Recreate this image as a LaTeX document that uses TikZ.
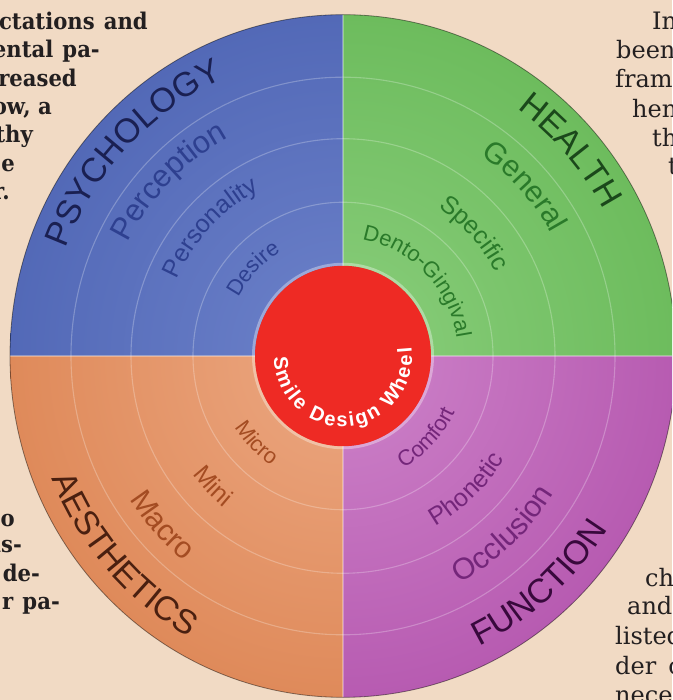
\documentclass[tikz,border=0pt]{standalone}
\usepackage{fontspec}
\setmainfont{Liberation Sans}
\newfontfamily\bgserifbold[FakeStretch=0.92]{DejaVu Serif}
\newfontfamily\bgserifreg{DejaVu Serif}
\usetikzlibrary{decorations.text}
\definecolor{pagebg}{HTML}{F1DAC4}
\definecolor{bgtext}{HTML}{231F20}
\definecolor{blueIn}{HTML}{6D82CA}
\definecolor{blueOut}{HTML}{3850A4}
\definecolor{greenIn}{HTML}{8ACE7C}
\definecolor{greenOut}{HTML}{50AA3E}
\definecolor{orangeIn}{HTML}{ECA882}
\definecolor{orangeOut}{HTML}{D26C32}
\definecolor{purpleIn}{HTML}{CE84CA}
\definecolor{purpleOut}{HTML}{A03298}
\definecolor{hubred}{HTML}{EE2A24}
\definecolor{psyA}{HTML}{1A2052}
\definecolor{psyB}{HTML}{2E4090}
\definecolor{heaA}{HTML}{1B481B}
\definecolor{heaB}{HTML}{2A7A2A}
\definecolor{aesA}{HTML}{4A2010}
\definecolor{aesB}{HTML}{A44C22}
\definecolor{funA}{HTML}{38093C}
\definecolor{funB}{HTML}{74267A}
\newcommand\wheelquad[4]{%
  \begin{scope}
    \clip (0,0) -- (#1:333pt) arc (#1:#2:333pt) -- cycle;
    \shade[inner color=#3, outer color=#4] (0,0) circle (666pt);
  \end{scope}}
\newcommand\toplabel[5]{% center angle, radius, size, color, text
  \path[decorate, decoration={text along path, text align=center,
     text={|\fontsize{#3}{#3}\selectfont\color{#4}|#5}}]
     (#1+70:#2 pt) arc (#1+70:#1-70:#2 pt);}
\newcommand\botlabel[5]{%
  \path[decorate, decoration={text along path, text align=center,
     text={|\fontsize{#3}{#3}\selectfont\color{#4}|#5}}]
     (#1-70:#2 pt) arc (#1-70:#1+70:#2 pt);}
\begin{document}
\begin{tikzpicture}[x=1pt,y=1pt,
  bgL/.style={anchor=base east, inner sep=0pt, text=bgtext,
    font=\bgserifbold\bfseries\fontsize{23}{28}\selectfont},
  bgR/.style={anchor=base west, inner sep=0pt, text=bgtext,
    font=\bgserifreg\fontsize{24}{28}\selectfont},
  ringline/.style={draw=white, opacity=0.25, line width=1.1pt},
  divline/.style={draw=white, opacity=0.3, line width=1.2pt}]
\useasboundingbox (0,0) rectangle (672,700);
\clip (0,0) rectangle (672,700);
\fill[pagebg] (0,0) rectangle (672,700);
% page text around the figure
\node[bgL] (l1) at (148,670) {ectations\hspace{0.4em}and};
\node[bgL] (l2) at (100,642) {ental\hspace{0.4em}pa-};
\node[bgL] (l3) at (77,613) {reased};
\node[bgL] (l4) at (52,585) {ow, a};
\node[bgL] (l5) at (33,557) {thy};
\node[bgL] (l6) at (15,528) {e};
\node[bgL] (l7) at (10,500) {r.};
\node[bgL] (l8) at (15,173) {o};
\node[bgL] (l9) at (22,147) {as-};
\node[bgL] (l10) at (40,118) {de-};
\node[bgL] (l11) at (60,90) {r\hspace{0.4em}pa-};
\node[bgR] (r1) at (652,670) {In};
\node[bgR] (r2) at (616,641) {been};
\node[bgR] (r3) at (615,612) {fram};
\node[bgR] (r4) at (632,582) {hen};
\node[bgR] (r5) at (652,553) {th};
\node[bgR] (r6) at (668,525) {t};
\node[bgR] (r7) at (645,113) {ch};
\node[bgR] (r8) at (627,85) {and};
\node[bgR] (r9) at (615,55) {listed};
\node[bgR] (r10) at (615,25) {der\hspace{0.5em}c};
\node[bgR] (r11) at (615,-4) {nece};
% the wheel
\begin{scope}[shift={(343,344)}, yscale=1.025]
  \wheelquad{90}{180}{blueIn}{blueOut}
  \wheelquad{0}{90}{greenIn}{greenOut}
  \wheelquad{180}{270}{orangeIn}{orangeOut}
  \wheelquad{270}{360}{purpleIn}{purpleOut}
  \draw[ringline] (0,0) circle (272pt);
  \draw[ringline] (0,0) circle (212pt);
  \draw[ringline] (0,0) circle (150pt);
  \draw[divline] (-333,0) -- (333,0);
  \draw[divline] (0,-333) -- (0,333);
  \draw[black, opacity=0.45, line width=0.8pt] (0,0) circle (333pt);
  \draw[white, opacity=0.35, line width=3pt] (0,0) circle (89.5pt);
  \fill[hubred] (0,0) circle (88pt);
  % labels
  \toplabel{136}{296}{34}{psyA}{PSYCHOLOGY}
  \toplabel{135}{242}{31}{psyB}{Perception}
  \toplabel{136}{182}{25}{psyB}{Personality}
  \toplabel{136}{119}{22}{psyB}{Desire}
  \toplabel{42}{297}{34}{heaA}{HEALTH}
  \toplabel{43}{240}{30}{heaB}{General}
  \toplabel{43}{173}{25}{heaB}{Specific}
  \toplabel{45}{115}{22}{heaB}{Dento-Gingival}
  \botlabel{222}{315}{34}{aesA}{AESTHETICS}
  \botlabel{223}{255}{30}{aesB}{Macro}
  \botlabel{225}{190}{25}{aesB}{Mini}
  \botlabel{225}{129}{22}{aesB}{Micro}
  \botlabel{311}{314}{34}{funA}{FUNCTION}
  \botlabel{312}{250}{30}{funB}{Occlusion}
  \botlabel{313}{190}{25}{funB}{Phonetic}
  \botlabel{316}{125}{22}{funB}{Comfort}
  \path[decorate, decoration={text along path, text align={fit to path},
     text={|\fontsize{20}{20}\selectfont\bfseries\color{white}|Smile Design Wheel}}]
     (181:69pt) arc (181:367:69pt);
\end{scope}
\end{tikzpicture}
\end{document}
